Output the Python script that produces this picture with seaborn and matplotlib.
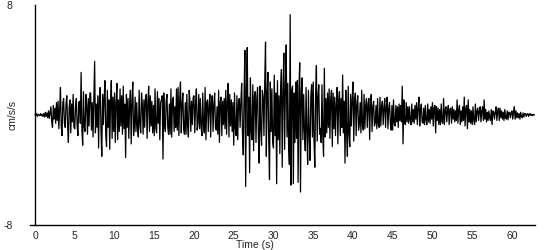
import numpy as np
import pandas as pd
import matplotlib
matplotlib.use("Agg")
import matplotlib.pyplot as plt
import seaborn as sns

# sample interval (s) and acceleration values (cm/s/s)
dt = 0.1
accel = [
    0.05, -0.05, 0.1, -0.1, 0.05, 0.0, -0.05, 0.1, -0.05, 0.05,
    -0.1, 0.1, -0.15, 0.2, -0.1, 0.15, -0.2, 0.3, -0.25, 0.2,
    0.6, -0.5, -0.9, 0.7, -0.3, 0.5, -0.6, 0.9, -0.4, 1.0,
    -1.0, 0.4, 2.0, -0.8, -1.5, 0.9, 1.2, -0.6, -0.9, 0.8,
    1.4, -0.7, -2.0, 0.6, 1.1, -1.3, 0.8, -0.5, 1.5, -0.9,
    -1.0, 0.7, 1.2, -0.8, -1.5, 0.9, 1.0, -0.6, 3.1, -1.1,
    -2.2, 1.7, -0.9, -1.2, 1.5, 0.7, -1.4, 1.2, -0.8, 1.6,
    1.6, -1.1, 0.9, -1.6, 1.2, 3.9, -1.3, 0.8, -0.9, 1.4,
    -2.4, 1.3, 2.0, -1.1, -3.0, 1.5, -0.7, 1.2, 2.5, -1.5,
    -2.3, 1.8, -0.9, 1.1, -2.5, 0.8, 2.5, -1.7, 1.3, -1.2,
    1.6, -2.0, 0.9, 2.3, -1.8, 1.1, -1.2, 1.9, -0.8, 1.4,
    -1.4, 2.1, -1.0, 0.8, -3.1, 1.5, -0.9, 1.2, -1.7, 0.7,
    1.8, -2.1, 1.0, 2.4, -1.5, -0.8, 1.3, -1.2, 0.9, -1.0,
    -1.6, 1.8, -0.7, -1.3, 1.6, 0.8, -1.4, 1.1, -0.9, 1.3,
    1.5, -1.7, 0.9, 2.1, -1.2, 1.4, -0.8, 1.0, -1.3, 0.7,
    -1.5, 1.9, -1.0, -1.3, 1.7, -0.6, 1.2, -1.8, 0.9, 1.1,
    1.4, -3.2, 1.6, -0.7, -1.2, 1.0, 1.5, -0.9, -1.4, 0.8,
    -1.4, 1.9, -1.6, 1.0, 1.3, -1.2, 0.6, -0.9, 1.9, -1.1,
    2.0, -1.5, 1.1, 2.4, -1.3, 0.8, 1.6, -1.0, -1.4, 0.9,
    -1.4, 1.5, -0.8, -1.6, 1.8, 0.9, -1.2, 1.0, -0.7, 1.3,
    1.4, -1.3, 0.8, 1.9, -1.1, -0.6, 1.5, -1.0, 1.2, -0.9,
    -1.5, 1.6, -0.8, -1.3, 2.0, -1.8, 0.9, 1.1, -1.2, 0.7,
    1.5, -1.6, 1.0, 1.4, -1.2, 0.8, 1.6, -0.9, -1.1, 0.6,
    -1.4, 1.8, -2.0, 0.9, 1.3, -1.5, 1.0, -0.7, 1.2, -1.0,
    1.8, -1.4, 0.9, 2.3, -1.6, 1.5, -0.8, 1.1, -1.2, 0.9,
    -2.2, 1.6, -1.0, -1.5, 1.4, -1.8, 0.9, 1.2, -0.9, 1.0,
    2.3, -1.4, -2.9, 1.5, 4.7, -5.2, 2.0, 4.9, -1.5, 1.3,
    -4.2, 2.7, -1.2, -1.8, 2.2, -2.6, 1.4, 1.7, -2.0, 1.2,
    2.0, -1.6, -3.5, 2.1, -1.0, -2.2, 1.8, 1.3, -1.5, 2.4,
    5.3, -3.0, 1.5, 3.1, -1.8, -4.7, 2.4, -1.2, 1.9, -2.0,
    -2.4, 2.9, -1.5, 1.6, -5.0, 2.5, -1.8, 1.4, -2.8, 2.0,
    3.3, -3.8, 1.7, 4.5, -2.5, 1.9, 5.1, -1.6, 2.3, -2.2,
    -3.6, 7.3, -5.1, 1.8, 2.1, -5.0, 1.6, -2.0, 2.4, -1.7,
    2.5, -4.9, 1.9, 3.8, -5.6, 1.7, 2.7, -1.8, 1.5, -1.2,
    -2.6, 2.0, -1.3, -3.6, 1.8, -1.5, -3.3, 1.4, 2.2, -1.6,
    2.4, -1.9, -3.8, 1.5, 3.6, -1.9, 1.3, 2.2, -1.4, -1.0,
    -2.0, 2.2, -1.5, -3.0, 3.4, -1.6, 1.2, -1.3, 1.6, -0.9,
    1.9, -1.7, 1.2, 1.8, -2.3, 1.6, -1.0, 1.3, -1.5, 0.8,
    2.0, -2.1, 1.1, 1.7, -1.5, 1.2, -0.9, 2.9, -1.3, 1.0,
    -3.5, 1.8, -1.2, -3.0, 2.1, -1.4, -2.3, 1.5, -0.8, 1.2,
    2.4, -1.9, 1.0, 1.6, -1.5, 0.8, 1.4, -1.1, -0.7, 0.9,
    -1.3, 1.8, -0.8, -1.1, 1.5, -1.0, 0.7, 1.2, -0.9, 0.8,
    1.2, -1.8, 0.9, 1.5, -1.2, 0.6, 1.0, -0.8, -0.6, 0.7,
    -1.0, 1.2, -0.7, -0.9, 1.3, -0.8, 0.6, 1.0, -0.7, 0.5,
    1.2, -0.9, 0.6, 1.3, -1.0, 0.5, 0.9, -0.6, -1.1, 0.7,
    -1.1, 1.1, -0.6, -0.8, 0.7, -0.5, 0.6, -0.9, 0.8, -0.4,
    0.7, -0.5, 2.1, -2.1, 1.1, -0.6, -0.7, 0.9, -0.5, 0.6,
    -0.6, 0.6, -0.4, -0.7, 0.8, -0.5, 0.4, -0.6, 0.7, -0.3,
    0.9, -0.7, 0.5, 1.3, -0.8, 0.4, 0.8, -0.5, -0.6, 0.5,
    -0.7, 0.7, -0.4, -0.7, 0.8, -0.5, 0.4, -0.6, 0.6, -0.3,
    0.9, -0.8, 0.5, 0.7, -1.3, 0.6, -0.4, 0.5, -0.7, 0.4,
    -0.7, 0.8, -0.5, -0.6, 1.2, -0.7, 0.4, 0.6, -0.5, 0.3,
    0.7, -0.7, 0.4, 0.5, -0.6, 0.6, -0.3, 0.4, -0.5, 0.3,
    -0.4, 1.1, -0.6, 0.4, 0.7, -0.7, 0.3, -0.5, 0.6, -0.4,
    1.3, -0.8, 0.5, 0.7, -1.0, 1.1, -0.5, 0.4, -0.6, 0.3,
    -0.7, 0.6, -0.4, -0.7, 0.8, -0.5, 0.3, 0.5, -0.4, 0.3,
    0.6, -0.5, 0.3, 0.6, -0.4, 1.1, -0.3, 0.4, -0.5, 0.2,
    -0.4, 0.3, -0.2, -0.4, 0.4, -0.7, 0.3, 0.2, -0.3, 0.2,
    0.6, -0.4, 0.3, 0.5, -0.4, 0.5, -0.2, 0.3, -0.3, 0.2,
    -0.4, 0.4, -0.2, -0.3, 0.3, -0.35, 0.2, 0.2, -0.2, 0.15,
    0.3, -0.3, 0.2, 0.6, -0.3, 0.3, -0.2, 0.15, -0.2, 0.1,
    -0.3, 0.2, -0.1, -0.2, 0.15, -0.15, 0.1, 0.1, -0.1, 0.05,
    0.1, -0.1, 0.05, 0.1, -0.05, 0.05, -0.05, 0.05, 0.0, 0.0,
]
x_ticks = [0, 5, 10, 15, 20, 25, 30, 35, 40, 45, 50, 55, 60]
y_ticks = [-8, 8]
y_tick_labels = ["-8", "8"]

time = np.arange(len(accel)) * dt
df = pd.DataFrame({"Time (s)": time, "cm/s/s": accel})

sns.set_style("white")
plt.rcParams["font.family"] = ["Liberation Sans", "DejaVu Sans"]

fig = plt.figure(figsize=(5.5, 2.5), dpi=100)
ax = fig.add_axes([30 / 550, 25 / 250, 505 / 550, 220 / 250])

sns.lineplot(data=df, x="Time (s)", y="cm/s/s", ax=ax, color="black",
             linewidth=0.9, estimator=None)

ax.set_xlim(-0.63, 62.9)
ax.set_ylim(-8, 8)
ax.spines["top"].set_visible(False)
ax.spines["right"].set_visible(False)
ax.spines["left"].set_position(("data", 0))
for s in ("left", "bottom"):
    ax.spines[s].set_color("black")
    ax.spines[s].set_linewidth(1.0)

ax.set_xticks(x_ticks)
ax.set_xticklabels([str(v) for v in x_ticks], fontsize=7.5)
ax.tick_params(axis="x", direction="out", length=3, width=1, pad=1.5, color="black")
ax.set_yticks(y_ticks)
ax.set_yticklabels(y_tick_labels, fontsize=7.5)
ax.tick_params(axis="y", length=0, pad=16)

ax.set_xlabel("")
ax.set_ylabel("")
fig.text(12 / 550, 1 - 115 / 250, "cm/s/s", rotation=90, ha="center",
         va="center", fontsize=7.5)
fig.text(255 / 550, 1 - 245 / 250, "Time (s)", ha="center", va="center",
         fontsize=7.5)

fig.savefig("out.png", dpi=100)
